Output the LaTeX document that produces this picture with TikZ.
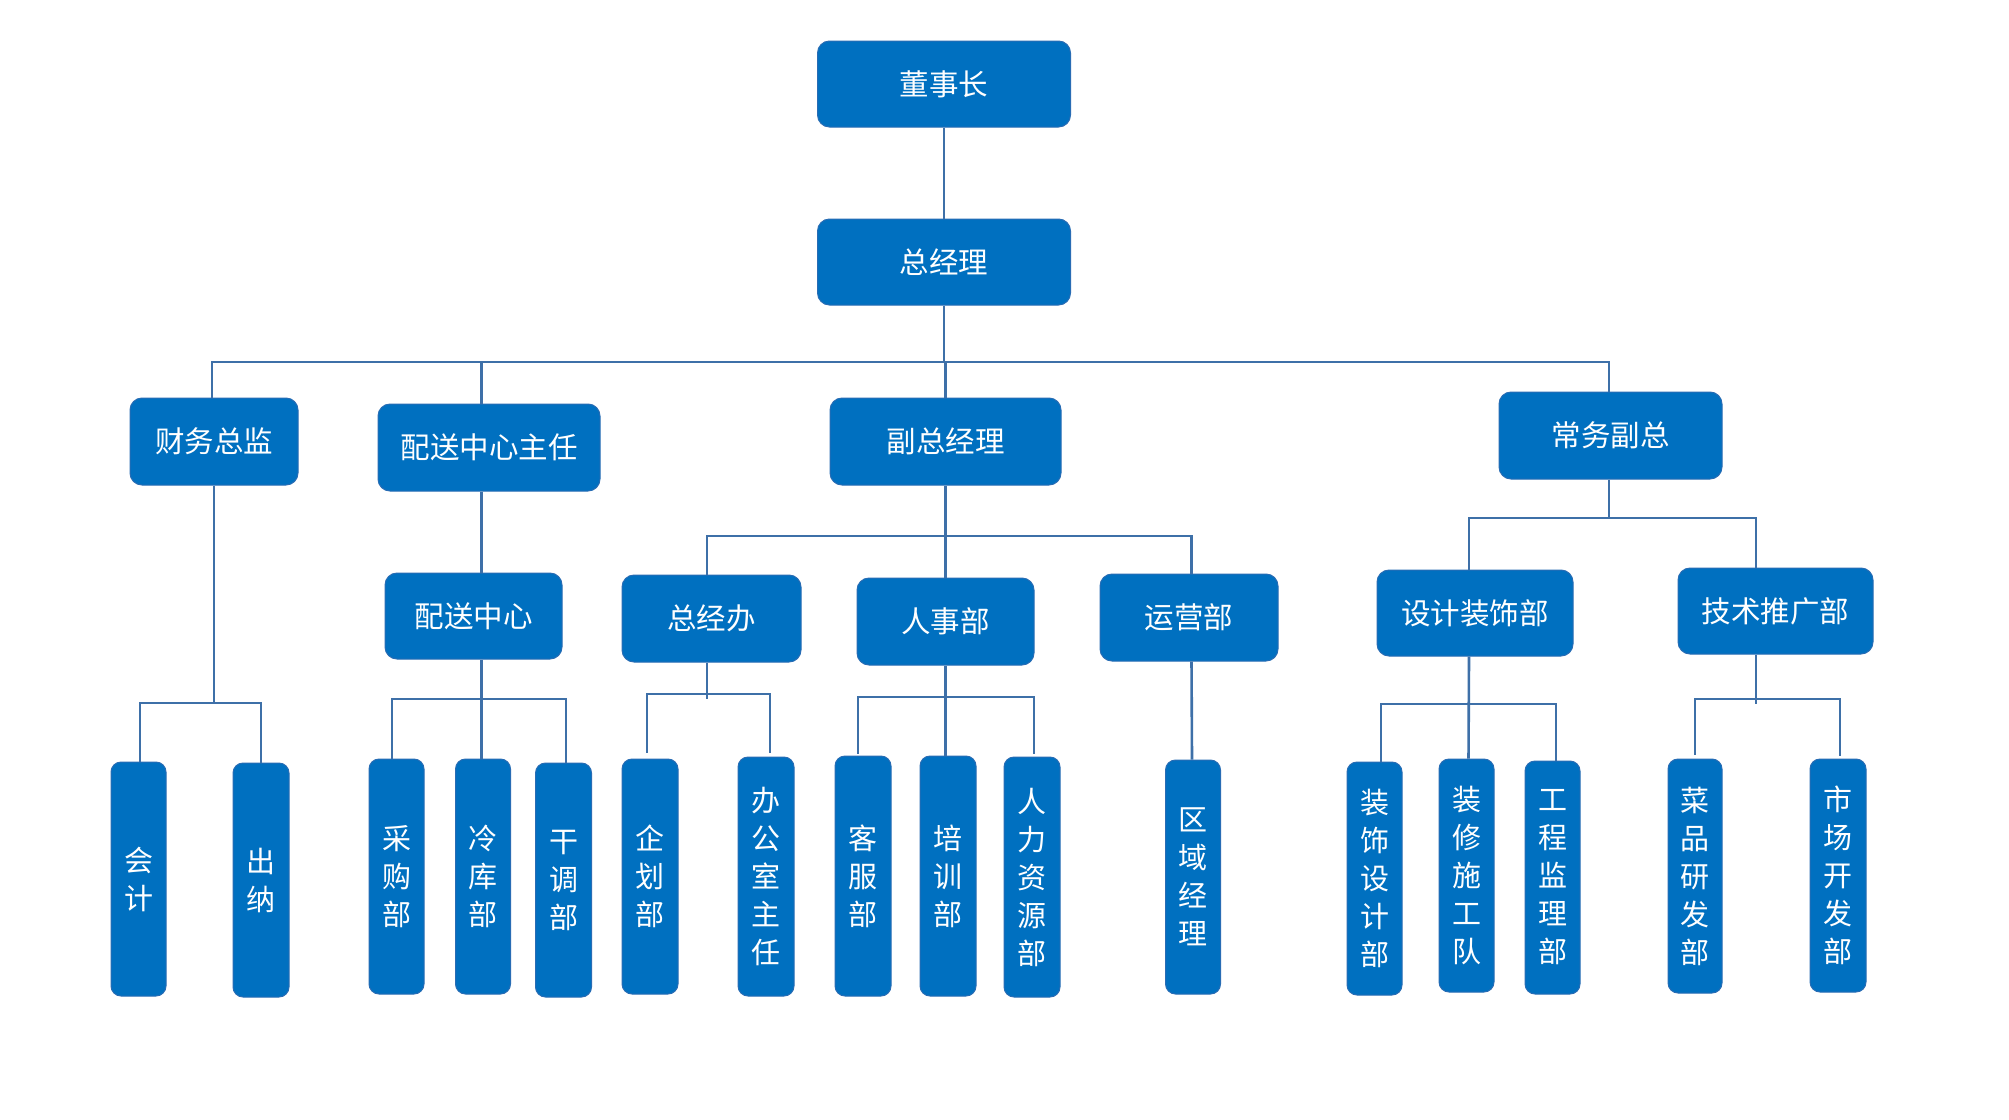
\documentclass[tikz,border=0pt]{standalone}
\usepackage{fontspec}
\newfontfamily\cjk{Noto Sans CJK SC}
\definecolor{boxblue}{RGB}{0,112,192}
\definecolor{boxedge}{RGB}{40,108,180}
\definecolor{lineblue}{RGB}{62,112,168}
\tikzset{
  box/.style={fill=boxblue, draw=boxedge, line width=1pt, rounded corners=12,
    text=white, inner sep=0pt, font=\cjk\fontsize{29.5}{32}\selectfont},
  hbox/.style={box, minimum height=87},
  vbox/.style={box, rounded corners=10, align=center, minimum width=55,
    font=\cjk\fontsize{29}{38}\selectfont},
  ln/.style={draw=lineblue, line width=2.6pt}
}
\begin{document}
\begin{tikzpicture}[x=1pt,y=-1pt]
\useasboundingbox (0,0) rectangle (2009,1119);
\fill[white] (0,0) rectangle (2009,1119);
% level 1-2
\node[hbox, minimum width=253, minimum height=86] (chair) at (944,84) {董事长};
\node[hbox, minimum width=253, minimum height=86] (gm) at (944,262) {总经理};
% level 3
\node[hbox, minimum width=168] (cw) at (214,441.5) {财务总监};
\node[hbox, minimum width=222] (psz) at (489,447.5) {配送中心主任};
\node[hbox, minimum width=231] (vp) at (945.5,441.5) {副总经理};
\node[hbox, minimum width=223] (cwfz) at (1610.5,435.5) {常务副总};
% level 4
\node[hbox, minimum width=177, minimum height=86] (psc) at (473.5,616) {配送中心};
\node[hbox, minimum width=179] (zjb) at (711.5,618.5) {总经办};
\node[hbox, minimum width=177] (rsb) at (945.5,621.5) {人事部};
\node[hbox, minimum width=178] (yyb) at (1189,617.5) {运营部};
\node[hbox, minimum width=196, minimum height=86] (sjzs) at (1475,613) {设计装饰部};
\node[hbox, minimum width=195, minimum height=86] (jstg) at (1775.5,611) {技术推广部};
% level 5
\node[vbox, minimum height=234] (kj) at (138.5,879) {会\\计};
\node[vbox, minimum height=234, minimum width=56] (cn) at (261,880) {出\\纳};
\node[vbox, minimum height=235] (cg) at (396.5,876.5) {采\\购\\部};
\node[vbox, minimum height=235] (lk) at (483,876.5) {冷\\库\\部};
\node[vbox, minimum height=234, minimum width=56] (gd) at (563.5,880) {干\\调\\部};
\node[vbox, minimum height=235, minimum width=56] (qh) at (650,876.5) {企\\划\\部};
\node[vbox, minimum height=239, minimum width=56] (bgs) at (766,876.5) {办\\公\\室\\主\\任};
\node[vbox, minimum height=240, minimum width=56] (kf) at (863,876) {客\\服\\部};
\node[vbox, minimum height=240, minimum width=56] (px) at (948,876) {培\\训\\部};
\node[vbox, minimum height=240, minimum width=56] (rlzy) at (1032,877) {人\\力\\资\\源\\部};
\node[vbox, minimum height=234] (qy) at (1193,877) {区\\域\\经\\理};
\node[vbox, minimum height=233] (zssj) at (1374.5,878.5) {装\\饰\\设\\计\\部};
\node[vbox, minimum height=233] (zxsg) at (1466.5,875.5) {装\\修\\施\\工\\队};
\node[vbox, minimum height=233] (gcjl) at (1552.5,877.5) {工\\程\\监\\理\\部};
\node[vbox, minimum height=234, minimum width=54] (cp) at (1695,876) {菜\\品\\研\\发\\部};
\node[vbox, minimum height=233, minimum width=56] (sc) at (1838,875.5) {市\\场\\开\\发\\部};
% bracket points
\coordinate (bus) at (944,362);
\coordinate (b2) at (214,703);
\coordinate (b3) at (481.5,699);
\coordinate (b4) at (945.5,536);
\coordinate (b5) at (707,694);
\coordinate (b6) at (945.5,697);
\coordinate (b7) at (1609,518);
\coordinate (b8) at (1469,704);
\coordinate (b9) at (1756,699);
% connectors
\draw[ln] (chair) -- (gm);
\draw[ln] (gm.south) -- (bus);
\draw[ln] ([xshift=-2]cw.north) |- (bus) -| ([xshift=-1.5]cwfz.north);
\draw[ln] ([xshift=-7.5]psz.north) -- ([xshift=-7.5]psz.north |- bus);
\draw[ln] (vp.north) -- (vp.north |- bus);
\draw[ln] (cw.south) -- (b2);
\draw[ln] ([xshift=1.5]kj.north) |- (b2) -| (cn.north);
\draw[ln] ([xshift=-7.5]psz.south) -- ([xshift=8]psc.north);
\draw[ln] ([xshift=8]psc.south) -- (b3);
\draw[ln] ([xshift=-4.5]cg.north) |- (b3) -| ([xshift=2.5]gd.north);
\draw[ln] ([xshift=-1.5]lk.north) -- ([xshift=-1.5]lk.north |- b3);
\draw[ln] (vp.south) -- (rsb.north);
\draw[ln] ([xshift=-4.5]zjb.north) |- (b4) -| ([xshift=2.5]yyb.north);
\draw[ln] ([xshift=-4.5]zjb.south) -- ++(0,36);
\draw[ln] ([xshift=-3,yshift=6]qh.north) |- (b5) -| ([xshift=4,yshift=4]bgs.north);
\draw[ln] (rsb.south) -- (rsb.south |- px.north);
\draw[ln] ([xshift=-5,yshift=2]kf.north) |- (b6) -| ([xshift=2,yshift=3]rlzy.north);
\draw[ln] ([xshift=2.5]yyb.south) -- ([xshift=-1]qy.north);
\draw[ln] ([xshift=-1.5]cwfz.south) -- (b7);
\draw[ln] ([xshift=-6]sjzs.north) |- (b7) -| ([xshift=-19.5]jstg.north);
\draw[ln] ([xshift=-6]sjzs.south) -- ([xshift=2]zxsg.north);
\draw[ln] ([xshift=6.5]zssj.north) |- (b8) -| ([xshift=3.5]gcjl.north);
\draw[ln] ([xshift=-19.5]jstg.south) -- ++(0,49);
\draw[ln] ([yshift=4]cp.north) |- (b9) -| ([xshift=2,yshift=3]sc.north);
\end{tikzpicture}
\end{document}
